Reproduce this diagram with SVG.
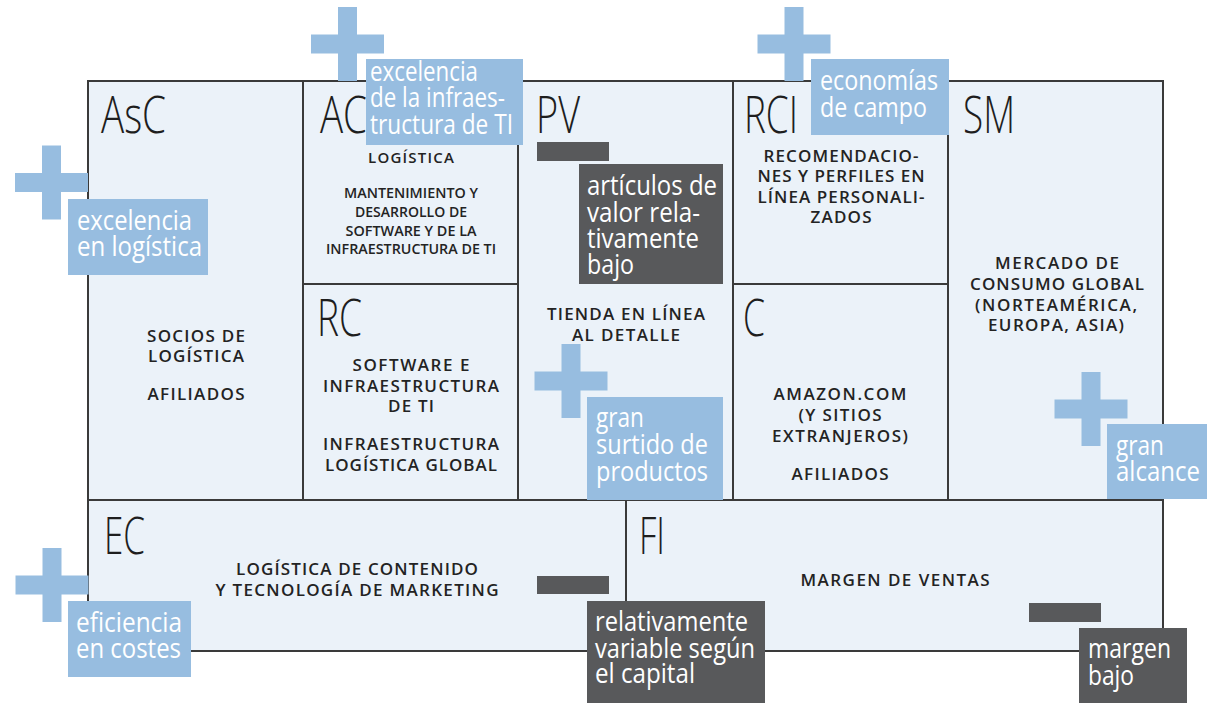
<svg xmlns="http://www.w3.org/2000/svg" xmlns:xlink="http://www.w3.org/1999/xlink" width="1212" height="703" viewBox="0 0 1212 703">
<style>
.cell{fill:#EBF2F9;stroke:#3A3A3A;stroke-width:2}
.l{font-family:"Open Sans","Liberation Sans",sans-serif;font-weight:300;font-size:52px;fill:#1E1E1E}
.b{font-family:"Open Sans","Liberation Sans",sans-serif;font-weight:600;font-size:17px;fill:#232323;text-anchor:middle}
.s{font-family:"Open Sans","Liberation Sans",sans-serif;font-weight:600;font-size:14px;fill:#232323;text-anchor:middle}
.m{font-family:"Open Sans","Liberation Sans",sans-serif;font-weight:600;font-size:15px;fill:#232323;text-anchor:middle}
.o{font-family:"Open Sans","Liberation Sans",sans-serif;font-weight:400;font-size:27px;fill:#FFFFFF}
.lb{fill:#97BDE0}
.dk{fill:#58595B}
</style>
<defs>
<path id="plus" d="M-9.5,-37H9.5V-9.5H36.5V9.5H9.5V37H-9.5V9.5H-36.5V-9.5H-9.5Z"/>
</defs>
<g id="connectors"/>
<g id="AsC">
<rect class="cell" x="88" y="81" width="215" height="419"/>
<text class="l" x="101" y="133" textLength="65" lengthAdjust="spacingAndGlyphs">AsC</text>
<text class="b" x="196" y="342" textLength="98" lengthAdjust="spacing">SOCIOS DE</text>
<text class="b" x="196" y="362" textLength="96" lengthAdjust="spacing">LOGÍSTICA</text>
<text class="b" x="196" y="400" textLength="97" lengthAdjust="spacing">AFILIADOS</text>
</g>
<g id="AC">
<rect class="cell" x="303" y="81" width="215" height="203"/>
<text class="l" x="320" y="133" textLength="47" lengthAdjust="spacingAndGlyphs">AC</text>
<text class="m" x="411" y="163" textLength="86" lengthAdjust="spacing">LOGÍSTICA</text>
<text class="s" x="411" y="198" textLength="134" lengthAdjust="spacingAndGlyphs">MANTENIMIENTO Y</text>
<text class="s" x="411" y="217" textLength="112" lengthAdjust="spacingAndGlyphs">DESARROLLO DE</text>
<text class="s" x="411" y="236" textLength="131" lengthAdjust="spacingAndGlyphs">SOFTWARE Y DE LA</text>
<text class="s" x="411" y="254" textLength="170" lengthAdjust="spacingAndGlyphs">INFRAESTRUCTURA DE TI</text>
</g>
<g id="RC">
<rect class="cell" x="303" y="284" width="215" height="216"/>
<text class="l" x="317" y="336" textLength="45" lengthAdjust="spacingAndGlyphs">RC</text>
<text class="b" x="411" y="371" textLength="117" lengthAdjust="spacing">SOFTWARE E</text>
<text class="b" x="411" y="392" textLength="176" lengthAdjust="spacing">INFRAESTRUCTURA</text>
<text class="b" x="411" y="412" textLength="46" lengthAdjust="spacing">DE TI</text>
<text class="b" x="411" y="450" textLength="176" lengthAdjust="spacing">INFRAESTRUCTURA</text>
<text class="b" x="411" y="471" textLength="172" lengthAdjust="spacing">LOGÍSTICA GLOBAL</text>
</g>
<g id="PV">
<rect class="cell" x="518" y="81" width="215" height="419"/>
<text class="l" x="536" y="133" textLength="44" lengthAdjust="spacingAndGlyphs">PV</text>
<text class="b" x="626" y="320" textLength="158" lengthAdjust="spacing">TIENDA EN LÍNEA</text>
<text class="b" x="626" y="341" textLength="108" lengthAdjust="spacing">AL DETALLE</text>
</g>
<g id="RCI">
<rect class="cell" x="733" y="81" width="215" height="203"/>
<text class="l" x="744" y="133" textLength="54" lengthAdjust="spacingAndGlyphs">RCI</text>
<text class="b" x="841" y="162" textLength="155" lengthAdjust="spacing">RECOMENDACIO-</text>
<text class="b" x="841" y="182" textLength="167" lengthAdjust="spacing">NES Y PERFILES EN</text>
<text class="b" x="841" y="203" textLength="167" lengthAdjust="spacing">LÍNEA PERSONALI-</text>
<text class="b" x="841" y="223" textLength="61" lengthAdjust="spacing">ZADOS</text>
</g>
<g id="C">
<rect class="cell" x="733" y="284" width="215" height="216"/>
<text class="l" x="743" y="336" textLength="22" lengthAdjust="spacingAndGlyphs">C</text>
<text class="b" x="840" y="400" textLength="133" lengthAdjust="spacing">AMAZON.COM</text>
<text class="b" x="840" y="421" textLength="83" lengthAdjust="spacing">(Y SITIOS</text>
<text class="b" x="840" y="442" textLength="136" lengthAdjust="spacing">EXTRANJEROS)</text>
<text class="b" x="840" y="480" textLength="97" lengthAdjust="spacing">AFILIADOS</text>
</g>
<g id="SM">
<rect class="cell" x="948" y="81" width="215" height="419"/>
<text class="l" x="963" y="133" textLength="52" lengthAdjust="spacingAndGlyphs">SM</text>
<text class="b" x="1057" y="269" textLength="124" lengthAdjust="spacing">MERCADO DE</text>
<text class="b" x="1057" y="290" textLength="174" lengthAdjust="spacing">CONSUMO GLOBAL</text>
<text class="b" x="1056" y="311" textLength="162" lengthAdjust="spacing">(NORTEAMÉRICA,</text>
<text class="b" x="1056" y="331" textLength="136" lengthAdjust="spacing">EUROPA, ASIA)</text>
</g>
<g id="EC">
<rect class="cell" x="88" y="500" width="538" height="151"/>
<text class="l" x="104" y="554" textLength="41" lengthAdjust="spacingAndGlyphs">EC</text>
<text class="b" x="357" y="575" textLength="242" lengthAdjust="spacing">LOGÍSTICA DE CONTENIDO</text>
<text class="b" x="357" y="596" textLength="283" lengthAdjust="spacing">Y TECNOLOGÍA DE MARKETING</text>
</g>
<g id="FI">
<rect class="cell" x="626" y="500" width="537" height="151"/>
<text class="l" x="639" y="554" textLength="26" lengthAdjust="spacingAndGlyphs">FI</text>
<text class="b" x="895" y="586" textLength="189" lengthAdjust="spacing">MARGEN DE VENTAS</text>
</g>
<g id="plus-AC"><use href="#plus" class="lb" x="347.5" y="44"/></g>
<g id="note-excelencia-infra">
<rect class="lb" x="366" y="59" width="157" height="86"/>
<text class="o" x="370" y="81" textLength="108" lengthAdjust="spacingAndGlyphs">excelencia</text>
<text class="o" x="370" y="107" textLength="135" lengthAdjust="spacingAndGlyphs">de la infraes-</text>
<text class="o" x="370" y="134" textLength="143" lengthAdjust="spacingAndGlyphs">tructura de TI</text>
</g>
<g id="plus-AsC"><use href="#plus" class="lb" x="51.5" y="182.5"/></g>
<g id="note-excelencia-logistica">
<rect class="lb" x="68" y="199" width="140" height="76"/>
<text class="o" x="77" y="230" textLength="115" lengthAdjust="spacingAndGlyphs">excelencia</text>
<text class="o" x="77" y="256" textLength="125" lengthAdjust="spacingAndGlyphs">en logística</text>
</g>
<g id="plus-RCI"><use href="#plus" class="lb" x="794" y="44"/></g>
<g id="note-economias">
<rect class="lb" x="811" y="59" width="138" height="76"/>
<text class="o" x="820" y="90" textLength="118" lengthAdjust="spacingAndGlyphs">economías</text>
<text class="o" x="820" y="117" textLength="107" lengthAdjust="spacingAndGlyphs">de campo</text>
</g>
<g id="minus-PV"><rect class="dk" x="537" y="142" width="72" height="19"/></g>
<g id="note-articulos">
<rect class="dk" x="579" y="164" width="144" height="120"/>
<text class="o" x="587" y="195" textLength="130" lengthAdjust="spacingAndGlyphs">artículos de</text>
<text class="o" x="587" y="222" textLength="113" lengthAdjust="spacingAndGlyphs">valor rela-</text>
<text class="o" x="587" y="248" textLength="112" lengthAdjust="spacingAndGlyphs">tivamente</text>
<text class="o" x="587" y="274" textLength="47" lengthAdjust="spacingAndGlyphs">bajo</text>
</g>
<g id="plus-PV"><use href="#plus" class="lb" x="571" y="381"/></g>
<g id="note-surtido">
<rect class="lb" x="587" y="397" width="136" height="103"/>
<text class="o" x="596" y="427" textLength="48" lengthAdjust="spacingAndGlyphs">gran</text>
<text class="o" x="596" y="454" textLength="112" lengthAdjust="spacingAndGlyphs">surtido de</text>
<text class="o" x="596" y="481" textLength="112" lengthAdjust="spacingAndGlyphs">productos</text>
</g>
<g id="plus-SM"><use href="#plus" class="lb" x="1091" y="409"/></g>
<g id="note-alcance">
<rect class="lb" x="1107" y="424" width="100" height="75"/>
<text class="o" x="1116" y="455" textLength="48" lengthAdjust="spacingAndGlyphs">gran</text>
<text class="o" x="1116" y="481" textLength="84" lengthAdjust="spacingAndGlyphs">alcance</text>
</g>
<g id="plus-EC"><use href="#plus" class="lb" x="52" y="585"/></g>
<g id="note-eficiencia">
<rect class="lb" x="68" y="601" width="123" height="76"/>
<text class="o" x="76" y="632" textLength="106" lengthAdjust="spacingAndGlyphs">eficiencia</text>
<text class="o" x="76" y="658" textLength="105" lengthAdjust="spacingAndGlyphs">en costes</text>
</g>
<g id="minus-EC"><rect class="dk" x="537" y="576" width="72" height="18"/></g>
<g id="note-relativamente">
<rect class="dk" x="587" y="601" width="178" height="102"/>
<text class="o" x="595" y="631" textLength="153" lengthAdjust="spacingAndGlyphs">relativamente</text>
<text class="o" x="595" y="658" textLength="160" lengthAdjust="spacingAndGlyphs">variable según</text>
<text class="o" x="595" y="683" textLength="100" lengthAdjust="spacingAndGlyphs">el capital</text>
</g>
<g id="minus-FI"><rect class="dk" x="1029" y="603" width="72" height="19"/></g>
<g id="note-margen">
<rect class="dk" x="1079" y="628" width="108" height="75"/>
<text class="o" x="1088" y="658" textLength="83" lengthAdjust="spacingAndGlyphs">margen</text>
<text class="o" x="1088" y="685" textLength="46" lengthAdjust="spacingAndGlyphs">bajo</text>
</g>
</svg>
